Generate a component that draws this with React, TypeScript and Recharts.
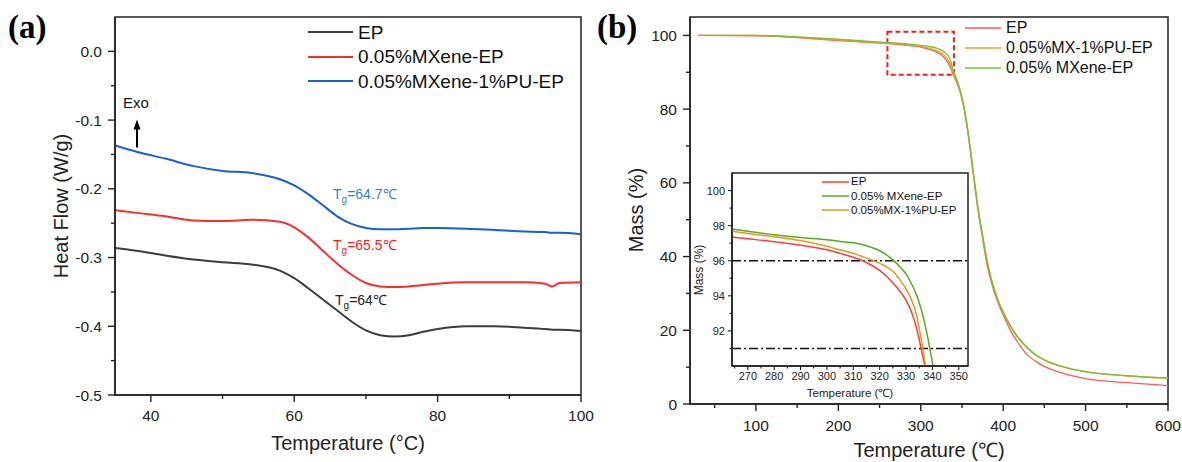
import {
  Legend,
  Line,
  LineChart,
  ReferenceArea,
  ReferenceLine,
  XAxis,
  YAxis,
} from "recharts";

const FONT = "'Liberation Sans', Arial, Helvetica, sans-serif";
const SERIF = "'Liberation Serif', 'Times New Roman', serif";
const INK = "#222";

// (a) DSC heat flow, W/g
const dscTemp = [35, 38, 42, 46, 50, 54, 58, 60, 62, 64, 66, 68, 70, 72, 74, 76, 78, 80, 84, 88, 92, 95, 96, 97, 100];
const dscEP = [-0.286, -0.29, -0.297, -0.303, -0.307, -0.31, -0.319, -0.33, -0.345, -0.361, -0.377, -0.393, -0.406, -0.413, -0.415, -0.413, -0.408, -0.404, -0.4, -0.4, -0.402, -0.404, -0.405, -0.405, -0.407];
const dscMX = [-0.231, -0.235, -0.24, -0.246, -0.247, -0.245, -0.248, -0.256, -0.271, -0.29, -0.309, -0.325, -0.337, -0.342, -0.343, -0.342, -0.34, -0.338, -0.336, -0.336, -0.336, -0.338, -0.342, -0.337, -0.336];
const dscMXPU = [-0.137, -0.146, -0.156, -0.167, -0.174, -0.177, -0.186, -0.195, -0.208, -0.224, -0.24, -0.251, -0.257, -0.259, -0.259, -0.258, -0.257, -0.257, -0.258, -0.26, -0.262, -0.263, -0.264, -0.264, -0.266];
const dscXTicks = [40, 50, 60, 70, 80, 90, 100];
const dscYTicks = [-0.5, -0.45, -0.4, -0.35, -0.3, -0.25, -0.2, -0.15, -0.1, -0.05, 0];

// (b) TGA mass, %
const tgaTemp = [30, 100, 150, 200, 250, 280, 300, 310, 320, 325, 330, 335, 340, 345, 350, 355, 360, 365, 370, 375, 380, 385, 390, 395, 400, 410, 420, 430, 440, 450, 470, 500, 550, 600];
const tgaEP = [100, 99.9, 99.4, 98.6, 97.9, 97.4, 96.8, 96.2, 95.4, 94.7, 93.6, 91.8, 89.0, 86.5, 82.8, 77, 69, 60.2, 51.8, 45, 38.3, 33.6, 29.8, 26.8, 24.2, 19.5, 16, 13.2, 11.5, 10.2, 8.5, 6.9, 5.8, 5.0];
const tgaMXPU = [100, 100, 99.5, 98.8, 98.0, 97.6, 97.0, 96.5, 95.8, 95.2, 94.3, 92.6, 89.3, 86.9, 83, 77.2, 69.2, 60.5, 52.2, 45.5, 39.3, 34.3, 30.4, 27.3, 24.8, 20.6, 17.4, 15.0, 13.2, 11.9, 10.2, 8.7, 7.6, 7.0];
const tgaMX = [100, 100, 99.6, 99.0, 98.2, 97.8, 97.3, 97.0, 96.5, 96.0, 95.2, 93.8, 90.3, 87.3, 83.3, 77.5, 69.5, 60.8, 52.5, 45.8, 39.5, 34.5, 30.6, 27.5, 25, 20.8, 17.6, 15.2, 13.3, 12, 10.3, 8.8, 7.7, 7.0];
const tgaXTicks = [50, 100, 150, 200, 250, 300, 350, 400, 450, 500, 550, 600];
const tgaYTicks = [0, 10, 20, 30, 40, 50, 60, 70, 80, 90, 100];

// inset, 264-354 °C
const zoomTemp = [264, 270, 280, 290, 300, 305, 310, 315, 320, 325, 328, 330, 332, 334, 336, 338, 340, 342];
const zoomEP = [97.35, 97.25, 97.08, 96.88, 96.62, 96.42, 96.2, 95.9, 95.45, 94.75, 94.2, 93.75, 93.1, 92.15, 90.8, 89.4, null, null];
const zoomMX = [97.81, 97.68, 97.48, 97.32, 97.2, 97.1, 97.02, 96.85, 96.57, 96.05, 95.6, 95.25, 94.7, 94.05, 93.1, 91.8, 90.2, 88.5];
const zoomMXPU = [97.68, 97.55, 97.37, 97.15, 96.82, 96.62, 96.42, 96.15, 95.85, 95.4, 94.85, 94.4, 93.8, 92.9, 91.3, 89.4, null, null];
const zoomXTicks = [265, 270, 275, 280, 285, 290, 295, 300, 305, 310, 315, 320, 325, 330, 335, 340, 345, 350];
const zoomYTicks = [91, 92, 93, 94, 95, 96, 97, 98, 99, 100];
const zoomLevels = [96, 91];

const dscData = dscTemp.map((t, i) => ({ t, ep: dscEP[i], mx: dscMX[i], mxpu: dscMXPU[i] }));
const tgaData = tgaTemp.map((t, i) => ({ t, ep: tgaEP[i], mxpu: tgaMXPU[i], mx: tgaMX[i] }));
const zoomData = zoomTemp.map((t, i) => ({ t, ep: zoomEP[i], mx: zoomMX[i], mxpu: zoomMXPU[i] }));

const dscSeries = [
  { key: "ep", name: "EP", color: "#3c3c3c" },
  { key: "mx", name: "0.05%MXene-EP", color: "#ff2b2b" },
  { key: "mxpu", name: "0.05%MXene-1%PU-EP", color: "#1a5fd6" },
];
const tgaSeries = [
  { key: "ep", name: "EP", color: "#ff5a5a" },
  { key: "mxpu", name: "0.05%MX-1%PU-EP", color: "#eaa020" },
  { key: "mx", name: "0.05% MXene-EP", color: "#72c236" },
];
const zoomSeries = [
  { key: "ep", name: "EP", color: "#ff3b3b" },
  { key: "mx", name: "0.05% MXene-EP", color: "#55aa1e" },
  { key: "mxpu", name: "0.05%MX-1%PU-EP", color: "#e39a1a" },
];

type TickCfg = {
  side: "left" | "bottom";
  isMajor: (v: number) => boolean;
  fmt: (v: number) => string;
  major: number;
  minor: number;
  gap: number;
  fontSize: number;
  width?: number;
};

// ticks drawn by hand so minor ticks can be shorter and unlabeled
function makeTick(cfg: TickCfg) {
  const sw = cfg.width ?? 1.4;
  return (props: any) => {
    const { x, y, payload } = props;
    const v = payload.value as number;
    const big = cfg.isMajor(v);
    const len = big ? cfg.major : cfg.minor;
    if (cfg.side === "left") {
      return (
        <g>
          <line x1={x - len} x2={x} y1={y} y2={y} stroke={INK} strokeWidth={sw} />
          {big && (
            <text x={x - cfg.major - cfg.gap} y={y} dy="0.36em" textAnchor="end" fontSize={cfg.fontSize} fontFamily={FONT} fill={INK}>
              {cfg.fmt(v)}
            </text>
          )}
        </g>
      );
    }
    return (
      <g>
        <line x1={x} x2={x} y1={y} y2={y + len} stroke={INK} strokeWidth={sw} />
        {big && (
          <text x={x} y={y + cfg.major + cfg.gap} dy="0.71em" textAnchor="middle" fontSize={cfg.fontSize} fontFamily={FONT} fill={INK}>
            {cfg.fmt(v)}
          </text>
        )}
      </g>
    );
  };
}

type LegendCfg = { fontSize: number; rowH: number; lineLen: number; gap: number; strokeW: number };

function makeLegend(series: { name: string; color: string }[], o: LegendCfg) {
  return () => (
    <div style={{ fontFamily: FONT, fontSize: o.fontSize, color: "#111", lineHeight: 1 }}>
      {series.map((s) => (
        <div key={s.name} style={{ display: "flex", alignItems: "center", height: o.rowH, whiteSpace: "nowrap" }}>
          <svg width={o.lineLen} height={4} style={{ marginRight: o.gap, flex: "none" }}>
            <line x1={0} x2={o.lineLen} y1={2} y2={2} stroke={s.color} strokeWidth={o.strokeW} />
          </svg>
          <span>{s.name}</span>
        </div>
      ))}
    </div>
  );
}

const ArrowShape = (p: any) => {
  const { x1, y1, x2, y2 } = p;
  return (
    <g>
      <line x1={x1} y1={y1} x2={x2} y2={y2 + 8} stroke="#000" strokeWidth={2} />
      <polygon points={`${x2},${y2} ${x2 - 3.5},${y2 + 10} ${x2 + 3.5},${y2 + 10}`} fill="#000" />
    </g>
  );
};

const tenth = (v: number) => Math.abs(v * 10 - Math.round(v * 10)) < 1e-6;
const axisLine = { stroke: INK, strokeWidth: 1.5 };

function Tg({ x, y, color, value }: { x: number; y: number; color: string; value: string }) {
  return (
    <text x={x} y={y} fontSize={14} fill={color} fontFamily={FONT}>
      T<tspan fontSize={10} dy={4}>g</tspan>
      <tspan dy={-4}>={value}℃</tspan>
    </text>
  );
}

export default function App() {
  return (
    <div style={{ position: "absolute", left: 0, top: 0, width: 1182, height: 462, background: "#fff" }}>
      <div style={{ position: "absolute", left: 0, top: 0 }}>
        <LineChart width={600} height={462} data={dscData} margin={{ top: 17, right: 19, bottom: 66, left: 114 }}>
          <XAxis
            dataKey="t"
            type="number"
            domain={[35, 100]}
            ticks={dscXTicks}
            interval={0}
            allowDataOverflow
            height={1}
            tickSize={0}
            tickMargin={0}
            tickLine={false}
            axisLine={axisLine}
            tick={makeTick({ side: "bottom", isMajor: (v) => v % 20 === 0, fmt: (v) => String(v), major: 7, minor: 4, gap: 8, fontSize: 15.5 })}
          />
          <YAxis
            type="number"
            domain={[-0.5, 0.05]}
            ticks={dscYTicks}
            interval={0}
            allowDataOverflow
            width={1}
            tickSize={0}
            tickMargin={0}
            tickLine={false}
            axisLine={axisLine}
            tick={makeTick({ side: "left", isMajor: tenth, fmt: (v) => v.toFixed(1), major: 7, minor: 4, gap: 6, fontSize: 15.5 })}
          />
          <ReferenceArea x1={35} x2={100} y1={-0.5} y2={0.05} fill="none" stroke={INK} strokeWidth={1.5} />
          <ReferenceLine segment={[{ x: 38.07, y: -0.14 }, { x: 38.07, y: -0.0993 }]} shape={ArrowShape} />
          {dscSeries.map((s) => (
            <Line
              key={s.key}
              dataKey={s.key}
              name={s.name}
              stroke={s.color}
              strokeWidth={2}
              type="monotone"
              dot={false}
              activeDot={false}
              isAnimationActive={false}
            />
          ))}
          <Legend
            layout="horizontal"
            verticalAlign="middle"
            align="center"
            content={makeLegend(dscSeries, { fontSize: 19, rowH: 24.5, lineLen: 45, gap: 5, strokeW: 2 })}
            wrapperStyle={{ left: 308, top: 20, width: 280, height: 80 }}
          />
        </LineChart>
      </div>

      <div style={{ position: "absolute", left: 590, top: 0 }}>
        <LineChart width={592} height={462} data={tgaData} margin={{ top: 17, right: 14, bottom: 57, left: 99 }}>
          <XAxis
            dataKey="t"
            type="number"
            domain={[20, 600]}
            ticks={tgaXTicks}
            interval={0}
            allowDataOverflow
            height={1}
            tickSize={0}
            tickMargin={0}
            tickLine={false}
            axisLine={axisLine}
            tick={makeTick({ side: "bottom", isMajor: (v) => v % 100 === 0, fmt: (v) => String(v), major: 7, minor: 4, gap: 9, fontSize: 15.5 })}
          />
          <YAxis
            type="number"
            domain={[0, 105]}
            ticks={tgaYTicks}
            interval={0}
            allowDataOverflow
            width={1}
            tickSize={0}
            tickMargin={0}
            tickLine={false}
            axisLine={axisLine}
            tick={makeTick({ side: "left", isMajor: (v) => v % 20 === 0, fmt: (v) => String(v), major: 7, minor: 4, gap: 6, fontSize: 15.5 })}
          />
          <ReferenceArea x1={20} x2={600} y1={0} y2={105} fill="none" stroke={INK} strokeWidth={1.5} />
          <ReferenceArea x1={259.5} x2={340.3} y1={89.3} y2={101} fill="none" stroke="#ff1a1a" strokeWidth={2} strokeDasharray="5 3" />
          {tgaSeries.map((s) => (
            <Line
              key={s.key}
              dataKey={s.key}
              name={s.name}
              stroke={s.color}
              strokeWidth={1.3}
              type="monotone"
              dot={false}
              activeDot={false}
              isAnimationActive={false}
            />
          ))}
          <Legend
            layout="horizontal"
            verticalAlign="middle"
            align="center"
            content={makeLegend(tgaSeries, { fontSize: 16, rowH: 20, lineLen: 36, gap: 5, strokeW: 1.3 })}
            wrapperStyle={{ left: 375, top: 18, width: 210, height: 62 }}
          />
        </LineChart>
      </div>

      <div style={{ position: "absolute", left: 680, top: 160 }}>
        <LineChart width={300} height={250} data={zoomData} margin={{ top: 13, right: 12, bottom: 43, left: 51 }}>
          <XAxis
            dataKey="t"
            type="number"
            domain={[264, 353.5]}
            ticks={zoomXTicks}
            interval={0}
            allowDataOverflow
            height={1}
            tickSize={0}
            tickMargin={0}
            tickLine={false}
            axisLine={axisLine}
            tick={makeTick({ side: "bottom", isMajor: (v) => v % 10 === 0, fmt: (v) => String(v), major: 4, minor: 2.5, gap: 2, fontSize: 11, width: 1.1 })}
          />
          <YAxis
            type="number"
            domain={[90, 101]}
            ticks={zoomYTicks}
            interval={0}
            allowDataOverflow
            width={1}
            tickSize={0}
            tickMargin={0}
            tickLine={false}
            axisLine={axisLine}
            tick={makeTick({ side: "left", isMajor: (v) => v % 2 === 0, fmt: (v) => String(v), major: 4, minor: 2.5, gap: 3, fontSize: 11, width: 1.1 })}
          />
          <ReferenceArea x1={264} x2={353.5} y1={90} y2={101} fill="none" stroke={INK} strokeWidth={1.5} />
          {zoomLevels.map((lv) => (
            <ReferenceLine key={lv} y={lv} stroke="#111" strokeWidth={1.5} strokeDasharray="9 3 2 3" />
          ))}
          {zoomSeries.map((s) => (
            <Line
              key={s.key}
              dataKey={s.key}
              name={s.name}
              stroke={s.color}
              strokeWidth={1.5}
              type="monotone"
              dot={false}
              activeDot={false}
              isAnimationActive={false}
            />
          ))}
          <Legend
            layout="horizontal"
            verticalAlign="middle"
            align="center"
            content={makeLegend(zoomSeries, { fontSize: 11.5, rowH: 14.2, lineLen: 27, gap: 2, strokeW: 1.5 })}
            wrapperStyle={{ left: 142, top: 15, width: 150, height: 44 }}
          />
        </LineChart>
      </div>

      <svg
        width={1182}
        height={462}
        style={{ position: "absolute", left: 0, top: 0, pointerEvents: "none" }}
        fontFamily={FONT}
        fill={INK}
      >
        <text x={8} y={38} fontFamily={SERIF} fontWeight="bold" fontSize={33} fill="#000">(a)</text>
        <text x={597} y={38} fontFamily={SERIF} fontWeight="bold" fontSize={33} fill="#000">(b)</text>

        <text x={348} y={450} textAnchor="middle" fontSize={20}>Temperature (°C)</text>
        <text transform="translate(68,206) rotate(-90)" textAnchor="middle" fontSize={20}>Heat Flow (W/g)</text>
        <text x={929} y={457} textAnchor="middle" fontSize={20}>Temperature (℃)</text>
        <text transform="translate(643,210) rotate(-90)" textAnchor="middle" fontSize={20}>Mass (%)</text>
        <text x={850} y={397} textAnchor="middle" fontSize={11.5}>Temperature (℃)</text>
        <text transform="translate(703,270) rotate(-90)" textAnchor="middle" fontSize={12}>Mass (%)</text>

        <text x={123} y={108} fontSize={15} fill="#111">Exo</text>
        <Tg x={333} y={199} color="#3b7dc9" value="64.7" />
        <Tg x={333} y={250} color="#ff1a1a" value="65.5" />
        <Tg x={335} y={305} color="#222" value="64" />
      </svg>
    </div>
  );
}
